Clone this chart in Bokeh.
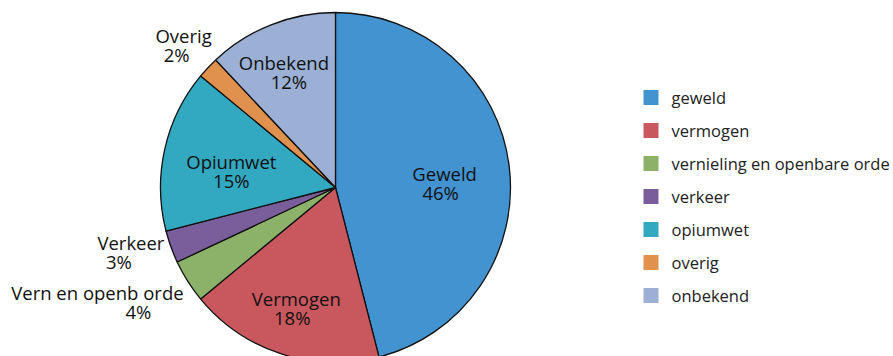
import numpy as np
from bokeh.plotting import figure
from bokeh.models import Range1d, ColumnDataSource
from bokeh.core.properties import value
from bokeh.embed import file_html
from bokeh.resources import INLINE

# ---- data ----
categories = ["geweld", "vermogen", "vernieling en openbare orde", "verkeer",
              "opiumwet", "overig", "onbekend"]
label_names = ["Geweld", "Vermogen", "Vern en openb orde", "Verkeer",
               "Opiumwet", "Overig", "Onbekend"]
shares = [46, 18, 4, 3, 15, 2, 12]
colors = ["#4393D1", "#C9575E", "#8CB26A", "#7A5E9B", "#33A9C1", "#E0914E", "#9BB0D4"]

# ---- label layout (radius fraction, dx, dy of first line, dx of second line) ----
label_layout = [
    (0.64, -2, 0, -4),     # geweld
    (0.67, -3, -1, -4),    # vermogen
    (1.30, -46, -17, 41),  # vernieling
    (1.20, -7, -16, -12),  # verkeer
    (0.61, 0, -3, 0),      # opiumwet
    (1.23, 5, -5, -7),     # overig
    (0.77, -2, 0, 5),      # onbekend
]

W, H = 893, 356
p = figure(width=W, height=H, x_range=Range1d(0, W), y_range=Range1d(0, H),
           output_backend="svg", toolbar_location=None, min_border=0,
           x_axis_location=None, y_axis_location=None)
p.grid.visible = False
p.outline_line_color = None

cx, cy, R = 335, 169, 175

vals = np.array(shares, dtype=float)
frac = vals / vals.sum()
cum = np.cumsum(frac)
starts = np.pi / 2 - 2 * np.pi * np.concatenate([[0], cum[:-1]])
ends = np.pi / 2 - 2 * np.pi * cum
mids = (starts + ends) / 2

src = ColumnDataSource(dict(start=ends, end=starts, color=colors))
p.wedge(x=cx, y=cy, radius=R, start_angle="start", end_angle="end",
        fill_color="color", line_color="#111111", line_width=1.3, source=src,
        direction="anticlock")

# slice labels
l1x, l1y, l2x, l2y, t1, t2 = [], [], [], [], [], []
for i, name in enumerate(label_names):
    rf, dx, dy, dx2 = label_layout[i]
    ax = cx + rf * R * np.cos(mids[i]) + dx
    ay = cy + rf * R * np.sin(mids[i]) - dy
    l1x.append(ax); l1y.append(ay)
    l2x.append(ax + dx2); l2y.append(ay - 19)
    t1.append(name); t2.append(f"{shares[i]}%")

lsrc = ColumnDataSource(dict(x=l1x + l2x, y=l1y + l2y, t=t1 + t2))
p.text(x="x", y="y", text="t", source=lsrc, text_font=value("Open Sans"),
       text_font_size="18.5px", text_align="center", text_baseline="middle",
       text_color="#111111")

# legend
leg_x, leg_top, leg_step = 650.5, 259, 33
ly = [leg_top - i * leg_step for i in range(len(categories))]
p.rect(x=[leg_x] * len(categories), y=ly, width=15, height=15,
       width_units="screen", height_units="screen", fill_color=colors, line_color=None)
p.text(x=[leg_x + 20.5] * len(categories), y=ly, text=categories,
       text_font=value("Open Sans"), text_font_size="16.5px", text_align="left",
       text_baseline="middle", text_color="#222222")

open("out.html", "w").write(file_html(p, INLINE))
